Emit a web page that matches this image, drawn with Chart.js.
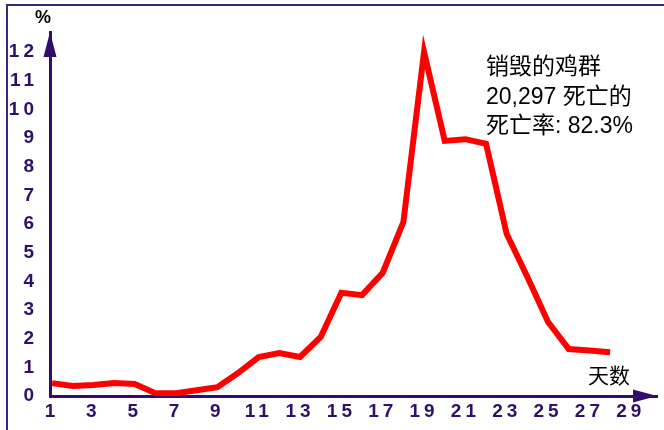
<!DOCTYPE html>
<html>
<head>
<meta charset="utf-8">
<script src="https://cdn.jsdelivr.net/npm/chart.js@4/dist/chart.umd.min.js"></script>
<style>
  html, body { margin: 0; padding: 0; background: #fff; overflow: hidden; }
  #wrap { position: relative; width: 664px; height: 430px; }
  #frame { position: absolute; left: 6px; top: 4px; width: 700px; height: 500px;
           border-left: 2px solid #3d2577; border-top: 2px solid #3d2577; }
  canvas { position: absolute; left: 0; top: 0; }
</style>
</head>
<body>
<div id="wrap">
  <div id="frame"></div>
  <canvas id="c" width="664" height="430"></canvas>
</div>
<script>
// ---- data ----
const days = [1,2,3,4,5,6,7,8,9,10,11,12,13,14,15,16,17,18,19,20,21,22,23,24,25,26,27,28];
const deathRate = [0.45,0.35,0.38,0.45,0.42,0.1,0.1,0.2,0.31,0.8,1.36,1.5,1.36,2.06,3.6,3.52,4.3,6.07,12.0,8.9,8.96,8.8,5.65,4.15,2.58,1.64,1.59,1.53];
const xTickLabels = [1,3,5,7,9,11,13,15,17,19,21,23,25,27,29];
const yTickLabels = [0,1,2,3,4,5,6,7,8,9,10,11,12];
const yUnit = '%';
const xUnit = '天数';
const noteLines = ['销毁的鸡群', '20,297 死亡的', '死亡率: 82.3%'];

const AXIS = '#2f0f6b';
const LATIN = '"Liberation Sans", Arial, Helvetica, sans-serif';
const CJK = '"Liberation Sans", "Noto Sans CJK SC", sans-serif';

const decor = {
  id: 'decor',
  beforeDraw(chart) {
    chart.ctx.letterSpacing = '4px';
  },
  beforeDatasetsDraw(chart) {
    chart.ctx.letterSpacing = '0px';
  },
  afterDraw(chart) {
    const ctx = chart.ctx;
    const a = chart.chartArea;
    ctx.save();
    ctx.letterSpacing = '0px';
    ctx.fillStyle = AXIS;
    // y arrow
    ctx.beginPath();
    ctx.moveTo(a.left, a.top);
    ctx.lineTo(a.left - 6.5, a.top + 25);
    ctx.lineTo(a.left + 6.5, a.top + 25);
    ctx.closePath();
    ctx.fill();
    // x arrow
    ctx.beginPath();
    ctx.moveTo(a.right, a.bottom);
    ctx.lineTo(a.right - 24, a.bottom - 6.5);
    ctx.lineTo(a.right - 24, a.bottom + 6.5);
    ctx.closePath();
    ctx.fill();
    // unit labels
    ctx.fillStyle = '#000';
    ctx.textAlign = 'center';
    ctx.textBaseline = 'middle';
    ctx.font = 'bold 18px ' + LATIN;
    ctx.fillText(yUnit, 43, 18);
    ctx.font = '21px ' + CJK;
    ctx.fillText(xUnit, 609, 377);
    // note
    ctx.textAlign = 'left';
    ctx.font = '23px ' + CJK;
    noteLines.forEach((t, i) => ctx.fillText(t, 486, 68 + i * 29.5));
    ctx.restore();
  }
};

new Chart(document.getElementById('c'), {
  type: 'line',
  data: {
    datasets: [{
      data: days.map((d, i) => ({ x: d, y: deathRate[i] })),
      borderColor: '#ff0000',
      borderWidth: 6,
      borderJoinStyle: 'miter',
      pointRadius: 0,
      tension: 0,
      fill: false
    }]
  },
  options: {
    responsive: false,
    animation: false,
    events: [],
    layout: { padding: { top: 32, right: 7, left: 0, bottom: 0 } },
    plugins: { legend: { display: false }, tooltip: { enabled: false } },
    scales: {
      x: {
        type: 'linear',
        min: 0.903,
        max: 30.27,
        grid: { display: false, drawTicks: false },
        border: { display: true, color: AXIS, width: 3 },
        afterBuildTicks: s => { s.ticks = xTickLabels.map(v => ({ value: v })); },
        afterFit: s => { s.height = 34; },
        ticks: {
          autoSkip: false, maxRotation: 0, padding: 4,
          color: AXIS, font: { family: LATIN, size: 19, weight: 'bold' }
        }
      },
      y: {
        type: 'linear',
        min: 0,
        max: 12.7,
        grid: { display: false, drawTicks: false },
        border: { display: true, color: AXIS, width: 3 },
        afterBuildTicks: s => { s.ticks = yTickLabels.map(v => ({ value: v })); },
        afterFit: s => { s.width = 50; },
        ticks: {
          autoSkip: false, padding: 12,
          color: AXIS, font: { family: LATIN, size: 19, weight: 'bold' }
        }
      }
    }
  },
  plugins: [decor]
});
</script>
</body>
</html>
